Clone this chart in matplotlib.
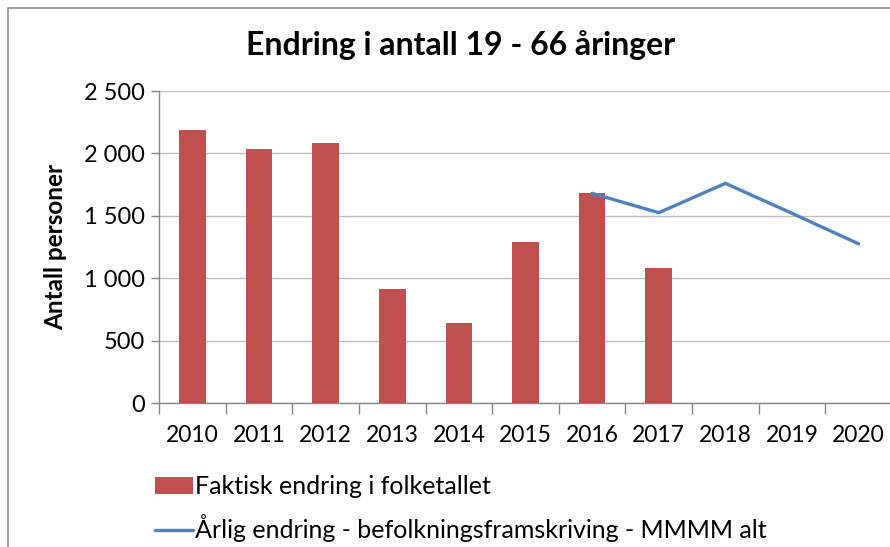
import matplotlib.pyplot as plt
from matplotlib.patches import Rectangle
from matplotlib.ticker import FuncFormatter, FixedLocator

# Data
years = ['2010', '2011', '2012', '2013', '2014', '2015', '2016', '2017', '2018', '2019', '2020']
actual_change = [2185, 2035, 2080, 910, 640, 1290, 1680, 1080]
projection_years = ['2016', '2017', '2018', '2019', '2020']
projection_change = [1680, 1525, 1760, 1520, 1275]

bar_color = '#C0504D'
line_color = '#4F81BD'

plt.rcParams['font.family'] = ['Lato', 'DejaVu Sans']

fig = plt.figure(figsize=(8.9, 5.47), dpi=100)
ax = fig.add_axes([159 / 890, 1 - 403 / 547, 733 / 890, 312 / 547])

x_bar = list(range(len(actual_change)))
x_line = [years.index(y) for y in projection_years]

bars = ax.bar(x_bar, actual_change, width=0.4, color=bar_color, zorder=3)
line, = ax.plot(x_line, projection_change, color=line_color, linewidth=2.4,
                solid_capstyle='round', zorder=4)

ax.set_xlim(-0.5, len(years) - 0.5)
ax.set_ylim(0, 2500)
ax.set_yticks(range(0, 2501, 500))
ax.yaxis.set_major_formatter(FuncFormatter(lambda v, p: f'{int(v):,}'.replace(',', ' ')))
ax.set_xticks(range(len(years)))
ax.set_xticklabels(years)
ax.xaxis.set_minor_locator(FixedLocator([i - 0.5 for i in range(len(years) + 1)]))

ax.tick_params(axis='x', which='major', length=0, labelsize=16.5, pad=16)
ax.tick_params(axis='x', which='minor', length=8, color='#868686', width=1)
ax.tick_params(axis='y', length=6, color='#868686', width=1, labelsize=17, pad=4)

ax.grid(axis='y', color='#BFBFBF', linewidth=1, zorder=0)
ax.set_axisbelow(True)
for side in ['top', 'right']:
    ax.spines[side].set_visible(False)
for side in ['left', 'bottom']:
    ax.spines[side].set_color('#868686')
    ax.spines[side].set_linewidth(1)

ax.set_ylabel('Antall personer', fontsize=17.5, fontweight='bold', labelpad=12)
fig.text(461 / 890, 1 - 45 / 547, 'Endring i antall 19 - 66 åringer',
         ha='center', va='center', fontsize=23, fontweight='bold')

# chart border
fig.patches.append(Rectangle((8 / 890, -0.1), 1.2, 1 - 8 / 547 + 0.1, transform=fig.transFigure,
                             fill=False, edgecolor='#8C8C8C', linewidth=1.2))

fig.legend([bars, line],
           ['Faktisk endring i folketallet',
            'Årlig endring - befolkningsframskriving - MMMM alt'],
           loc='upper left', bbox_to_anchor=(155 / 890, 1 - 475 / 547),
           frameon=False, fontsize=18, handlelength=1.5, handleheight=0.7,
           handletextpad=0.1, labelspacing=0.65, borderaxespad=0, borderpad=0)

fig.savefig('out.png', dpi=100)
